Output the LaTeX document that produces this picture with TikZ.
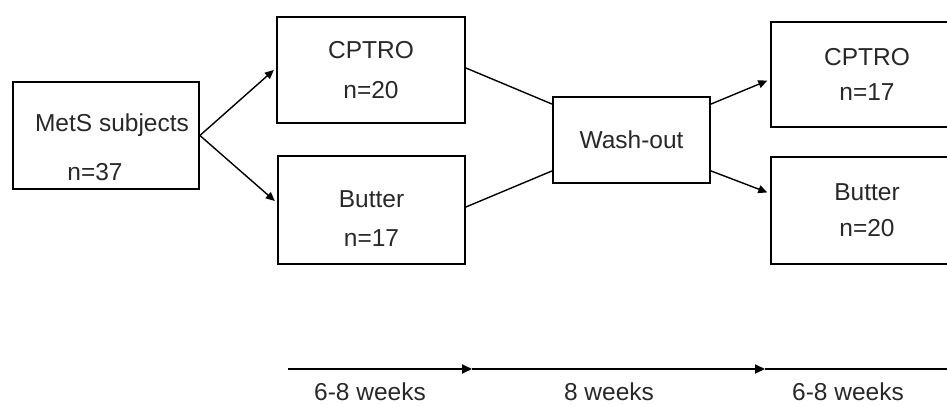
\documentclass[tikz,border=0pt]{standalone}
\usepackage{fontspec}
\setmainfont{Liberation Sans}
\usetikzlibrary{arrows.meta, positioning, calc}
\definecolor{FlowText}{RGB}{40, 40, 40}

\tikzset{
  armbox/.style={draw=black, line width=1.8pt, align=center, inner sep=0pt,
    text=FlowText, font=\fontsize{24.5}{27}\selectfont},
  flowline/.style={line width=1.4pt},
  flowarrow/.style={line width=1.4pt, -{Triangle[length=9pt, width=8pt]}, shorten >=3pt},
  timeline/.style={line width=2pt},
  weeklabel/.style={text=FlowText, font=\fontsize{24.5}{27}\selectfont, inner sep=0pt}
}

\begin{document}
\begin{tikzpicture}[x=1pt, y=-1pt]
    \useasboundingbox (0,0) rectangle (947,406);
    \clip (0,0) rectangle (947,406);

    % study arms
    \node[armbox, minimum width=186pt, minimum height=107pt] (mets) at (106,135.5)
      {\rule{0pt}{42pt}\hspace*{12pt}MetS subjects\\[22pt]\hspace*{-22pt}n=37};
    \node[armbox, minimum width=188pt, minimum height=106pt] (cptroA) at (371,70)
      {CPTRO\\[13pt]n=20};
    \node[armbox, minimum width=187pt, minimum height=108pt] (butterA) at (371.5,210)
      {\rule{0pt}{34pt}Butter\\[12pt]n=17};
    \node[armbox, minimum width=157pt, minimum height=86pt] (wash) at (631.5,140)
      {Wash-out};
    \node[armbox, minimum width=192pt, minimum height=105pt] (cptroB) at (867,74.5)
      {CPTRO\\[8pt]n=17};
    \node[armbox, minimum width=192pt, minimum height=107pt] (butterB) at (867,210.5)
      {Butter\\[9pt]n=20};

    % connectors
    \draw[flowarrow] (mets.east) -- ([yshift=2pt]cptroA.west);
    \draw[flowarrow] (mets.east) -- ([yshift=7pt]butterA.west);
    \draw[flowline] ([yshift=2pt]cptroA.east) -- ([yshift=-8pt]wash.north west);
    \draw[flowline] ([yshift=3pt]butterA.east) -- ([yshift=13pt]wash.south west);
    \draw[flowarrow] ([yshift=-8pt]wash.north east) -- ([yshift=-5pt]cptroB.west);
    \draw[flowarrow] ([yshift=13pt]wash.south east) -- ([yshift=17pt]butterB.west);

    % time axis
    \coordinate (t0) at (288,369);
    \coordinate (t1) at (472,369);
    \coordinate (t2) at (765,369);
    \coordinate (t3) at (960,369);
    \draw[timeline, -{Triangle[length=10pt, width=9pt]}] (t0) -- (t1);
    \draw[timeline, -{Triangle[length=10pt, width=9pt]}] (t1) -- (t2);
    \draw[timeline] (t2) -- (t3);
    \node[weeklabel] (phaseA) at (370,392) {6-8 weeks};
    \node[weeklabel] (phaseW) at (609,392) {8 weeks};
    \node[weeklabel] (phaseB) at (848,392) {6-8 weeks};
\end{tikzpicture}
\end{document}
